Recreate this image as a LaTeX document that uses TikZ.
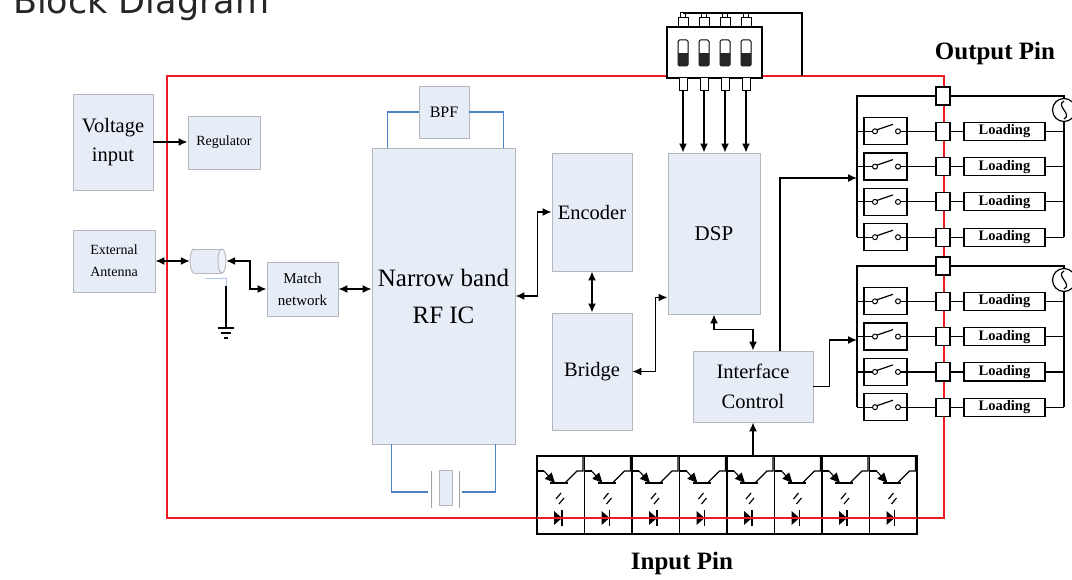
\documentclass[tikz,border=0pt]{standalone}
\usepackage{fontspec}
\setmainfont{Liberation Serif}
\newfontfamily\titlefont{DejaVu Sans}
\usetikzlibrary{arrows.meta}

\definecolor{boxfill}{RGB}{231,237,247}
\definecolor{boxline}{RGB}{180,182,188}
\definecolor{rfblue}{RGB}{79,129,201}
\definecolor{frame}{RGB}{237,28,36}

\tikzset{
  blk/.style={draw=boxline, fill=boxfill, line width=0.9pt, align=center, inner sep=0pt},
  arr/.style={line width=1.5pt, -{Latex[length=9pt,width=8pt]}},
  darr/.style={line width=1.5pt, {Latex[length=9pt,width=8pt]}-{Latex[length=9pt,width=8pt]}},
  wire/.style={line width=1.2pt},
  bline/.style={draw=rfblue, line width=1.3pt},
  pin/.style={draw, fill=white, line width=1.2pt, inner sep=0pt, minimum width=14, minimum height=18},
  load/.style={draw, fill=white, line width=1.2pt, inner sep=0pt, minimum width=81, minimum height=18, font=\bfseries\fontsize{14.5}{14.5}\selectfont},
}

\begin{document}
\begin{tikzpicture}[x=1pt,y=-1pt]
	\useasboundingbox (0,0) rectangle (1072,580);
	\clip (0,0) rectangle (1072,580);

	% title and frame
	\node[anchor=base west, font=\titlefont\fontsize{35}{35}\selectfont, text=black!85, inner sep=0pt] (title) at (13,14) {Block Diagram};
	\draw[frame, line width=1.3pt] (167,76) rectangle (944,518);

	% blocks
	\node[blk, minimum width=80, minimum height=96, font=\fontsize{20.5}{29}\selectfont] (volt) at (113,142) {Voltage\\input};
	\node[blk, minimum width=72, minimum height=53, font=\fontsize{14}{16}\selectfont] (reg) at (224,142.5) {Regulator};
	\node[blk, minimum width=82, minimum height=62, font=\fontsize{14}{22}\selectfont] (ext) at (114,261) {External\\Antenna};
	\node[blk, minimum width=71, minimum height=54, font=\fontsize{15}{22}\selectfont] (match) at (302.5,289) {Match\\network};
	\node[blk, minimum width=143, minimum height=296, font=\fontsize{25}{37}\selectfont] (rfic) at (443.5,296) {Narrow band\\RF IC};
	\node[blk, minimum width=50, minimum height=52, font=\fontsize{16}{16}\selectfont] (bpf) at (444,112) {BPF};
	\node[blk, minimum width=13, minimum height=35] (xtal) at (445.5,488) {};
	\node[blk, minimum width=80, minimum height=118, font=\fontsize{20.5}{20}\selectfont] (enc) at (592,212) {Encoder};
	\node[blk, minimum width=80, minimum height=117, font=\fontsize{20.5}{20}\selectfont] (brg) at (592,371.5) {Bridge};
	\node[blk, minimum width=92, minimum height=161, font=\fontsize{21}{21}\selectfont] (dsp) at (714,233.5) {DSP};
	\node[blk, minimum width=120, minimum height=71, font=\fontsize{20.5}{30}\selectfont] (ifc) at (753,386.5) {Interface\\Control};

	% coax connector
	\node[minimum width=36, minimum height=24, inner sep=0pt] (cyl) at (208,261) {};
	\draw[draw=boxline, fill=boxfill, line width=0.9pt] (194,261) ellipse [x radius=4, y radius=12];
	\fill[boxfill] (194,249) rectangle (222,273);
	\draw[boxline, line width=0.9pt] (194,249) -- (222,249) (194,273) -- (222,273);
	\draw[draw=boxline, fill=boxfill!60!white, line width=0.9pt] (222,261) ellipse [x radius=4, y radius=12];
	\draw[rfblue!45, line width=1pt] (205,279) -| (226,286);
	\coordinate (gnd) at (226,328);
	\draw[wire] (226,286) -- (gnd);
	\draw[wire] ([xshift=-8pt]gnd) -- ([xshift=8pt]gnd);
	\draw[wire] ([xshift=-5pt,yshift=-5pt]gnd) -- ([xshift=5pt,yshift=-5pt]gnd);
	\draw[wire] ([xshift=-2pt,yshift=-10pt]gnd) -- ([xshift=2pt,yshift=-10pt]gnd);

	% filter and crystal
	\draw[bline] ([xshift=16pt]rfic.north west) |- (bpf.west);
	\draw[bline] ([xshift=-12pt]rfic.north east) |- (bpf.east);
	\draw[bline] ([xshift=20pt]rfic.south west) |- (428,492);
	\draw[bline] ([xshift=-20pt]rfic.south east) |- (462,492);
	\draw[boxline!90!black, line width=1pt] (431,471) -- (431,508) (459,471) -- (459,508);

	% connections
	\draw[arr] (volt.east) -- (volt.east -| reg.west);
	\draw[darr] (ext.east) -- (cyl.west);
	\draw[darr] (cyl.east) -- ++(24,0) |- (match.west);
	\draw[darr] (match.east) -- (match.east -| rfic.west);
	\draw[darr] (rfic.east) -- ++(22,0) |- (enc.west);
	\draw[darr] (enc.south) -- (brg.north);
	\draw[darr] (brg.east) -- ++(23,0) |- ([yshift=17pt]dsp.south west);
	\draw[darr] (dsp.south) -- ++(0,15) -| (ifc.north);

	% dip switch
	\node[draw, fill=white, line width=1.2pt, minimum width=95, minimum height=51, inner sep=0pt] (dip) at (714.5,52.5) {};
	\foreach \i in {0,...,3}{
	\pgfmathsetmacro\xp{683+21*\i}
	\draw[line width=1pt, rounded corners=1.5pt] (\xp-5,40) rectangle (\xp+5,66);
	\fill[black!85] (\xp-5,53) rectangle (\xp+5,66);
	\node[draw, fill=white, line width=1pt, minimum width=10, minimum height=9, inner sep=0pt] (pt\i) at (\xp,22.5) {};
	\draw[line width=1pt] (\xp-2.5,13) rectangle (\xp+2.5,18);
	\node[draw, fill=white, line width=1pt, minimum width=8, minimum height=13, inner sep=0pt] (pb\i) at (\xp,84.5) {};
	\draw[arr] (pb\i.south) -- (pb\i.south |- dsp.north);
	}
	\draw[wire] (683,13) -- (802,13) -- (802,76);

	% output pins
	\coordinate (in1) at (857,178);
	\coordinate (in2) at (857,340);
	\foreach \g/\dy in {1/0,2/170}{
	\begin{scope}[shift={(0,\dy)}]
	\node[pin] (t\g0) at (943,96) {};
	\node[circle, draw, fill=white, line width=1.2pt, minimum size=23, inner sep=0pt] (ac\g) at (1064,110) {};
	\draw[line width=1.2pt] (1064,101) .. controls (1055,106) and (1073,114) .. (1064,119);
	\draw[wire] (t\g0.east) -| (ac\g.north);
	\draw[wire] (t\g0.west) -| (857,237.2);
	\draw[wire] (ac\g.south) -- (1064,237.2);
	\foreach \j in {1,...,4}{
	\pgfmathsetmacro\yr{96+35.3*\j}
	\node[draw, line width=1.2pt, minimum width=43, minimum height=27, inner sep=0pt] (sw\g\j) at (885.5,\yr) {};
	\node[pin] (t\g\j) at (943,\yr) {};
	\node[load] (ld\g\j) at (1004.5,\yr) {Loading};
	\draw[wire] (857,\yr) -- (872.5,\yr);
	\draw[line width=1pt] (875,\yr) circle (2.5) (898,\yr) circle (2.5);
	\draw[wire] (877,\yr-1.5) -- (893,\yr-7);
	\draw[wire] (900.5,\yr) -- (t\g\j.west);
	\draw[wire] (t\g\j.east) -- (ld\g\j.west);
	\draw[wire] (ld\g\j.east) -- (1064,\yr);
	}
	\end{scope}
	}
	\draw[arr] ([xshift=27pt]ifc.north) |- (in1);
	\draw[arr] (ifc.east) -- ++(16,0) |- (in2);

	% input optocouplers
	\foreach \i in {0,...,7}{
	\pgfmathsetmacro\xo{537+47.5*\i}
	\node[draw, line width=1.2pt, minimum width=47.5, minimum height=78, inner sep=0pt] (c\i) at (\xo+23.75,495) {};
	\begin{scope}[shift={(\xo,0)}]
	\draw[line width=1.1pt] (0,471) -- (7,471);
	\draw[line width=1.1pt, -{Triangle[length=10pt,width=9pt]}] (7,471) -- (18,483);
	\draw[line width=2.2pt] (13,483) -- (31,483);
	\draw[line width=1.1pt] (28,483) -- (40,471) -- (46,471) -- (46,457);
	\draw[line width=1.2pt] (19,499) -- (24,493) (22,504) -- (27,498);
	\draw[line width=1.1pt] (12,518) -- (32,518);
	\fill (17,511) -- (17,525) -- (25,518) -- cycle;
	\draw[line width=1.8pt] (25,510) -- (25,526);
	\end{scope}
	}
	\draw[frame, line width=1.3pt] (537,518) -- (917,518);
	\draw[arr] (ifc.south |- c4.north) -- (ifc.south);

	% pin labels
	\node[font=\bfseries\fontsize{25}{25}\selectfont] (outpin) at (995,53) {Output Pin};
	\node[font=\bfseries\fontsize{25}{25}\selectfont] (inpin) at (682,563) {Input Pin};
\end{tikzpicture}
\end{document}
